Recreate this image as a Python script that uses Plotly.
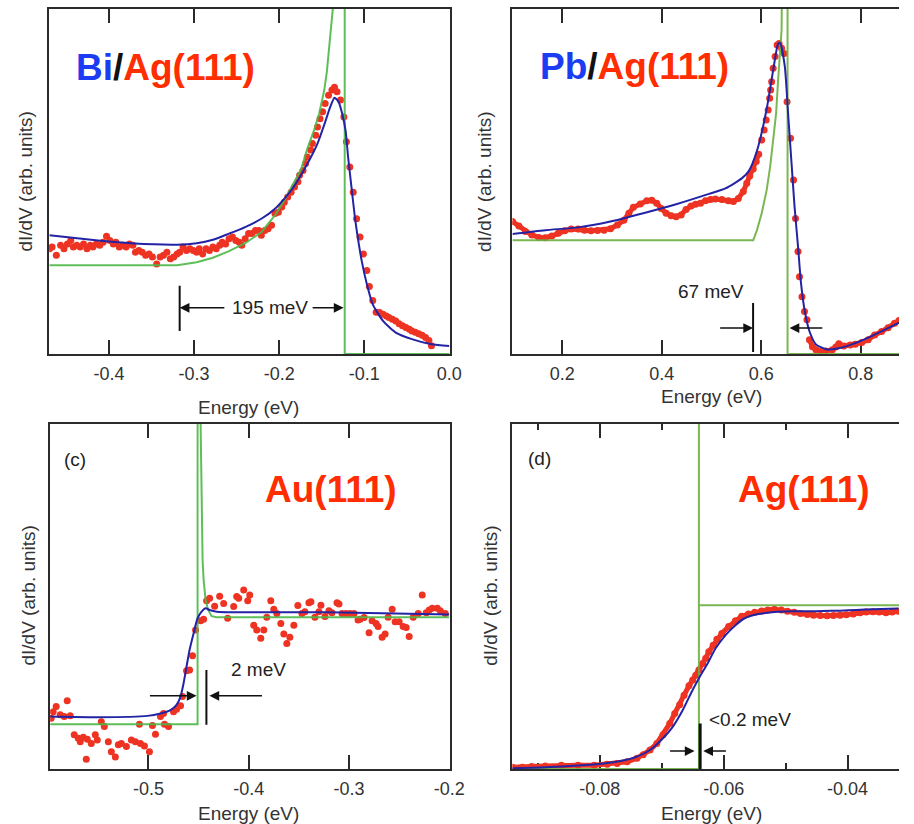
import plotly.graph_objects as go

# ---------------- Panel (a) Bi/Ag(111) ----------------
a_energy = [-0.470, -0.467, -0.462, -0.457, -0.453, -0.449, -0.445, -0.442, -0.438, -0.434,
            -0.430, -0.426, -0.422, -0.419, -0.415, -0.411, -0.407, -0.403, -0.399, -0.395,
            -0.392, -0.388, -0.384, -0.380, -0.376, -0.372, -0.369, -0.365, -0.361, -0.357,
            -0.353, -0.349, -0.344, -0.340, -0.336, -0.332, -0.328, -0.324, -0.320, -0.317,
            -0.313, -0.309, -0.305, -0.301, -0.297, -0.294, -0.290, -0.286, -0.282, -0.278,
            -0.274, -0.270, -0.267, -0.263, -0.259, -0.255, -0.251, -0.247, -0.244, -0.240,
            -0.236, -0.232, -0.228, -0.224, -0.221, -0.217, -0.213, -0.209, -0.205, -0.201,
            -0.197, -0.194, -0.190, -0.186, -0.182, -0.178, -0.176, -0.172, -0.169, -0.167,
            -0.163, -0.161, -0.157, -0.155, -0.152, -0.149, -0.146, -0.142, -0.138, -0.135,
            -0.132, -0.128, -0.124, -0.121, -0.117, -0.113, -0.109, -0.105, -0.101, -0.097,
            -0.094, -0.090, -0.086, -0.082, -0.078, -0.074, -0.071, -0.067, -0.063, -0.059,
            -0.055, -0.051, -0.047, -0.044, -0.040, -0.036, -0.032, -0.028, -0.024, -0.021]
a_didv = [30.5, 31.0, 28.6, 31.5, 30.5, 31.9, 32.9, 31.0, 31.5, 31.0,
          31.9, 30.5, 31.5, 31.0, 31.9, 31.5, 32.4, 34.1, 32.9, 31.9,
          32.4, 31.0, 31.5, 31.0, 31.9, 31.5, 29.5, 30.0, 29.5, 28.6,
          29.0, 28.1, 26.1, 28.1, 28.6, 29.5, 27.6, 28.1, 29.0, 29.5,
          31.0, 30.0, 30.5, 30.0, 29.5, 30.5, 29.0, 30.5, 30.0, 31.0,
          30.5, 31.5, 32.4, 31.9, 33.4, 33.9, 32.9, 32.4, 31.5, 33.4,
          34.9, 34.9, 35.8, 35.8, 34.4, 35.8, 36.3, 37.3, 40.7, 41.1,
          42.6, 44.0, 45.5, 46.9, 48.4, 49.9, 51.8, 53.2, 55.2, 57.1,
          59.1, 61.0, 63.4, 65.8, 68.2, 70.2, 72.6, 75.0, 76.5, 77.3,
          76.0, 73.6, 68.7, 61.5, 54.2, 46.9, 39.2, 33.9, 29.0, 24.2,
          19.6, 15.5, 12.1, 12.0, 11.5, 11.0, 10.6, 10.1, 9.6, 8.8,
          8.2, 7.7, 7.2, 6.7, 6.3, 5.9, 5.4, 4.8, 3.9, 2.4]
a_fit_energy = [-0.470, -0.413, -0.374, -0.320, -0.297, -0.278, -0.259, -0.240, -0.221, -0.205,
                -0.186, -0.167, -0.155, -0.146, -0.140, -0.135, -0.130, -0.126, -0.122, -0.119,
                -0.115, -0.111, -0.107, -0.103, -0.097, -0.090, -0.078, -0.063, -0.044, -0.021, 0.000]
a_fit = [34.4, 32.9, 32.1, 31.7, 32.1, 33.1, 34.9, 36.8, 39.2, 42.1,
         47.4, 55.1, 61.0, 67.2, 71.6, 74.3, 73.0, 69.7, 64.8, 57.1,
         48.3, 39.6, 32.8, 27.0, 20.3, 14.4, 9.6, 6.2, 4.3, 2.8, 2.3]
a_model_energy = [-0.470, -0.320, -0.297, -0.278, -0.259, -0.240, -0.221, -0.205, -0.194, -0.182,
                  -0.174, -0.167, -0.159, -0.153, -0.147, -0.144, -0.141, -0.139, -0.137, -0.136,
                  -0.123, -0.123, 0.000]
a_model = [25.7, 25.7, 26.6, 27.9, 29.8, 32.1, 35.3, 40.2, 44.5, 49.9,
           53.7, 59.5, 64.9, 69.7, 76.5, 81.8, 89.1, 94.9, 100.0, 110.0,
           110.0, 0.0, 0.0]

# ---------------- Panel (b) Pb/Ag(111) ----------------
b_energy_low = [0.100, 0.113, 0.126, 0.139, 0.153, 0.166, 0.179, 0.192, 0.205, 0.218,
                0.232, 0.245, 0.258, 0.271, 0.284, 0.297, 0.311, 0.324, 0.334, 0.343,
                0.357, 0.370, 0.380, 0.390, 0.399, 0.409, 0.419, 0.429, 0.439, 0.449,
                0.459, 0.468, 0.478, 0.488, 0.498, 0.508, 0.521, 0.534, 0.544, 0.554,
                0.564, 0.571, 0.577, 0.584, 0.590, 0.595]
b_didv_low = [38.4, 37.1, 35.5, 34.5, 33.8, 33.7, 34.2, 35.0, 35.7, 36.2,
              36.2, 35.9, 35.7, 35.8, 35.9, 36.3, 37.4, 38.8, 40.8, 42.5,
              43.5, 44.4, 44.6, 43.7, 42.2, 40.8, 40.1, 39.8, 40.3, 41.9,
              42.9, 43.4, 43.7, 44.4, 44.8, 44.9, 44.8, 44.4, 44.2, 45.1,
              47.1, 49.5, 51.6, 53.6, 55.8, 57.9]
b_energy_peak = [0.601, 0.606, 0.610, 0.614, 0.617, 0.619, 0.621, 0.624, 0.628, 0.632,
                 0.636, 0.641, 0.646, 0.652, 0.659, 0.665, 0.669, 0.674, 0.677, 0.682,
                 0.687, 0.692]
b_didv_peak = [62.0, 64.9, 67.8, 70.7, 74.1, 76.5, 78.9, 82.8, 86.2, 89.6,
               90.0, 88.6, 87.1, 73.1, 62.5, 50.4, 39.3, 29.7, 22.4, 16.6,
               12.3, 9.9]
b_energy_high = [0.697, 0.703, 0.710, 0.720, 0.730, 0.743, 0.750, 0.756, 0.766, 0.779,
                 0.789, 0.802, 0.815, 0.828, 0.842, 0.855, 0.868, 0.877]
b_didv_high = [4.1, 2.1, 1.2, 0.7, 0.9, 1.2, 2.0, 3.0, 2.3, 2.6,
               2.8, 3.3, 4.1, 5.5, 6.5, 7.6, 8.9, 9.7]
b_fit_energy = [0.100, 0.166, 0.232, 0.297, 0.363, 0.429, 0.495, 0.528, 0.561, 0.575,
                0.5915, 0.611, 0.624, 0.634, 0.638, 0.6475, 0.654, 0.661, 0.667, 0.674,
                0.680, 0.687, 0.697, 0.710, 0.730, 0.750, 0.782, 0.822, 0.877]
b_fit = [34.8, 35.9, 36.7, 38.4, 40.8, 43.4, 46.4, 48.0, 50.9, 53.0,
         58.9, 71.0, 82.2, 89.9, 90.2, 83.3, 69.8, 55.3, 42.8, 31.2,
         20.6, 12.9, 6.6, 2.8, 1.4, 1.5, 2.8, 5.2, 9.1]
b_model_energy = [0.100, 0.584, 0.5915, 0.601, 0.611, 0.618, 0.624, 0.630, 0.634, 0.638,
                  0.641, 0.642, 0.653, 0.653, 0.877]
b_model = [33.0, 33.0, 35.9, 40.8, 47.5, 54.3, 62.0, 69.8, 79.4, 88.1,
           93.9, 110.0, 110.0, 0.0, 0.0]

# ---------------- Panel (c) Au(111) ----------------
c_energy = [-0.597, -0.595, -0.592, -0.588, -0.584, -0.581, -0.578, -0.574, -0.570, -0.568,
            -0.565, -0.562, -0.561, -0.557, -0.553, -0.551, -0.547, -0.544, -0.540, -0.537,
            -0.533, -0.530, -0.527, -0.522, -0.517, -0.513, -0.509, -0.508, -0.504, -0.499,
            -0.496, -0.493, -0.488, -0.485, -0.484, -0.480, -0.475, -0.472, -0.468, -0.466,
            -0.462, -0.459, -0.456, -0.453, -0.448, -0.445, -0.442, -0.439, -0.434, -0.429,
            -0.425, -0.421, -0.415, -0.412, -0.410, -0.405, -0.401, -0.399, -0.395, -0.392,
            -0.388, -0.385, -0.382, -0.378, -0.375, -0.372, -0.368, -0.365, -0.362, -0.359,
            -0.355, -0.351, -0.347, -0.344, -0.340, -0.338, -0.334, -0.330, -0.328, -0.324,
            -0.320, -0.317, -0.312, -0.310, -0.307, -0.303, -0.299, -0.295, -0.291, -0.289,
            -0.285, -0.280, -0.277, -0.273, -0.271, -0.267, -0.264, -0.261, -0.257, -0.254,
            -0.250, -0.246, -0.243, -0.240, -0.236, -0.231, -0.227, -0.223, -0.220, -0.217,
            -0.212, -0.209, -0.204]
c_didv = [14.7, 16.6, 18.1, 15.7, 15.2, 19.8, 15.4, 9.9, 8.9, 7.9,
          9.2, 2.8, 8.6, 7.4, 9.9, 8.4, 13.7, 12.3, 7.9, 5.0,
          3.5, 7.0, 7.4, 6.5, 8.4, 7.9, 13.0, 7.4, 6.7, 5.0,
          12.6, 10.1, 15.2, 16.1, 13.0, 12.3, 16.6, 17.3, 18.3, 21.0,
          28.5, 28.7, 32.8, 40.3, 43.0, 43.4, 48.8, 49.5, 47.2, 50.1,
          48.0, 43.7, 47.1, 50.0, 49.5, 51.9, 48.8, 50.4, 41.7, 40.3,
          37.9, 40.3, 44.0, 48.8, 46.3, 45.1, 42.2, 39.1, 36.4, 38.2,
          41.7, 47.4, 45.1, 45.6, 48.2, 48.5, 44.0, 45.6, 47.5, 44.2,
          45.9, 45.3, 48.2, 47.8, 45.1, 45.1, 45.1, 45.1, 43.2, 43.4,
          43.9, 39.5, 43.0, 42.2, 41.3, 38.2, 39.1, 44.0, 46.3, 42.7,
          42.7, 41.3, 41.0, 38.4, 44.0, 45.1, 50.4, 45.3, 46.1, 46.6,
          46.6, 45.9, 45.1]
c_fit_energy = [-0.598, -0.550, -0.501, -0.488, -0.478, -0.472, -0.468, -0.465, -0.462, -0.459,
                -0.455, -0.451, -0.447, -0.443, -0.439, -0.432, -0.403, -0.321, -0.200]
c_fit = [15.2, 15.0, 15.4, 16.1, 17.1, 18.6, 21.0, 24.8, 29.7, 34.5,
         39.3, 43.7, 45.6, 46.6, 46.1, 45.6, 45.4, 45.4, 44.8]
c_model_energy = [-0.598, -0.451, -0.451, -0.4485, -0.448, -0.447, -0.446, -0.445, -0.443, -0.4405,
                  -0.437, -0.432, -0.200]
c_model = [13.0, 13.0, 110.0, 110.0, 100.0, 75.1, 60.6, 54.8, 49.0, 46.1,
           44.3, 44.0, 44.0]

# ---------------- Panel (d) Ag(111) ----------------
d_energy = [-0.0941, -0.0925, -0.0910, -0.0888, -0.0862, -0.0835, -0.0809, -0.0788, -0.0772, -0.0756,
            -0.0740, -0.0730, -0.0719, -0.0708, -0.0698, -0.0687, -0.0679, -0.0671, -0.0664, -0.0656,
            -0.0650, -0.0645, -0.0640, -0.0634, -0.0629, -0.0624, -0.0617, -0.0611, -0.0603, -0.0592,
            -0.0581, -0.0571, -0.0560, -0.0550, -0.0539, -0.0529, -0.0518, -0.0507, -0.0497, -0.0486,
            -0.0476, -0.0465, -0.0455, -0.0444, -0.0433, -0.0423, -0.0412, -0.0402, -0.0391, -0.0380,
            -0.0370, -0.0359, -0.0349, -0.0338, -0.0328, -0.0318]
d_didv = [0.5, 0.5, 0.7, 0.9, 1.1, 1.1, 1.1, 1.4, 1.6, 2.1,
          3.1, 4.1, 5.5, 7.4, 9.9, 13.2, 16.1, 18.6, 21.4, 24.1,
          25.8, 27.2, 28.7, 30.6, 32.1, 34.0, 35.9, 37.6, 39.3, 41.3,
          43.0, 44.3, 44.9, 45.4, 45.8, 46.1, 46.3, 46.1, 45.7, 45.4,
          45.1, 44.8, 44.6, 44.5, 44.4, 44.5, 44.6, 44.7, 44.9, 45.3,
          45.5, 45.6, 45.5, 45.3, 45.5, 45.7]
d_fit_energy = [-0.0941, -0.0888, -0.0835, -0.0793, -0.0767, -0.0740, -0.0719, -0.0698, -0.0682, -0.0666,
                -0.0653, -0.0640, -0.0626, -0.0613, -0.0597, -0.0581, -0.0566, -0.0544, -0.0518, -0.0492,
                -0.0465, -0.0439, -0.0412, -0.0386, -0.0359, -0.0318]
d_fit = [0.2, 0.5, 1.0, 1.6, 2.3, 3.6, 5.5, 8.9, 12.3, 17.1,
         21.9, 26.3, 30.6, 35.0, 38.8, 41.7, 43.7, 44.9, 45.5, 45.7,
         45.7, 45.8, 45.9, 46.1, 46.3, 46.5]
d_model_energy = [-0.0941, -0.0640, -0.0640, -0.0640, -0.0317]
d_model = [0.0, 0.0, 110.0, 47.5, 47.5]

# ---------------- Axis ticks ----------------
a_ticks = [-0.4, -0.3, -0.2, -0.1, 0.0]
a_ticktext = ["-0.4", "-0.3", "-0.2", "-0.1", "0.0"]
b_ticks = [0.2, 0.4, 0.6, 0.8]
b_ticktext = ["0.2", "0.4", "0.6", "0.8"]
c_ticks = [-0.5, -0.4, -0.3, -0.2]
c_ticktext = ["-0.5", "-0.4", "-0.3", "-0.2"]
d_ticks = [-0.08, -0.06, -0.04]
d_ticktext = ["-0.08", "-0.06", "-0.04"]
d_minor_ticks = [-0.09, -0.07, -0.05]

# ---------------- Styles ----------------
RED = "#ee3323"
BLUE = "#2323a6"
GREEN_AC = "#4db848"
GREEN_BD = "#6cb040"
FRAME = "#2b2b2b"
TXT = "#333333"
FONT = "Liberation Sans, Arial, Helvetica, sans-serif"

W, H = 914, 824
fig = go.Figure()


def px_x(p):
    return p / W


def px_y(p):
    return 1 - p / H


def add_panel(n, model_e, model_y, green, fit_e, fit_y, data_sets):
    xa = "x" if n == 1 else f"x{n}"
    ya = "y" if n == 1 else f"y{n}"
    for (e, v, dense) in data_sets:
        if dense:
            fig.add_trace(go.Scatter(x=e, y=v, mode="lines+markers", xaxis=xa, yaxis=ya,
                                     line=dict(color=RED, width=5),
                                     marker=dict(color=RED, size=7), showlegend=False))
        else:
            fig.add_trace(go.Scatter(x=e, y=v, mode="markers", xaxis=xa, yaxis=ya,
                                     marker=dict(color=RED, size=7), showlegend=False))
    fig.add_trace(go.Scatter(x=model_e, y=model_y, mode="lines", xaxis=xa, yaxis=ya,
                             line=dict(color=green, width=2), opacity=0.9, showlegend=False))
    fig.add_trace(go.Scatter(x=fit_e, y=fit_y, mode="lines", xaxis=xa, yaxis=ya,
                             line=dict(color=BLUE, width=2, shape="spline", smoothing=0.6),
                             showlegend=False))


add_panel(1, a_model_energy, a_model, GREEN_AC, a_fit_energy, a_fit,
          [(a_energy, a_didv, False)])
add_panel(2, b_model_energy, b_model, GREEN_BD, b_fit_energy, b_fit,
          [(b_energy_low, b_didv_low, True), (b_energy_peak, b_didv_peak, False),
           (b_energy_high, b_didv_high, True)])
add_panel(3, c_model_energy, c_model, GREEN_AC, c_fit_energy, c_fit,
          [(c_energy, c_didv, False)])
add_panel(4, d_model_energy, d_model, GREEN_BD, d_fit_energy, d_fit,
          [(d_energy, d_didv, True)])

top_dom = [px_y(354), px_y(9)]
bot_dom = [px_y(769), px_y(424)]
left_dom_a = [px_x(50), px_x(457)]
left_dom_c = [px_x(51), px_x(457)]
right_dom = [px_x(521), 1.0]


def xaxis(dom, rng, tv, tt, anchor, minor=None):
    d = dict(domain=dom, range=rng, anchor=anchor, tickmode="array", tickvals=tv, ticktext=tt,
             ticks="inside", ticklen=14, tickwidth=2, tickcolor=FRAME,
             showline=True, linecolor=FRAME, linewidth=2, mirror="ticks",
             showgrid=False, zeroline=False, layer="below traces",
             tickfont=dict(family=FONT, size=18, color=TXT), ticklabelstandoff=2)
    if minor:
        d["minor"] = dict(tickmode="array", tickvals=minor, ticks="inside", ticklen=6,
                          tickwidth=2, tickcolor=FRAME)
    return d


def yaxis(dom, anchor, mirror):
    return dict(domain=dom, range=[0, 100], anchor=anchor, showticklabels=False, ticks="",
                showline=True, linecolor=FRAME, linewidth=2, mirror=mirror,
                showgrid=False, zeroline=False, layer="below traces")


fig.update_layout(
    width=W, height=H, margin=dict(l=0, r=0, t=0, b=0),
    paper_bgcolor="white", plot_bgcolor="white", showlegend=False,
    xaxis=xaxis(left_dom_a, [-0.4704, 0.0002], a_ticks, a_ticktext, "y"),
    yaxis=yaxis(top_dom, "x", True),
    xaxis2=xaxis(right_dom, [0.100, 0.877], b_ticks, b_ticktext, "y2"),
    yaxis2=yaxis(top_dom, "x2", False),
    xaxis3=xaxis(left_dom_c, [-0.598, -0.1998], c_ticks, c_ticktext, "y3"),
    yaxis3=yaxis(bot_dom, "x3", True),
    xaxis4=xaxis(right_dom, [-0.0941, -0.0317], d_ticks, d_ticktext, "y4", d_minor_ticks),
    yaxis4=yaxis(bot_dom, "x4", False),
)

ann = []
# axis titles
for (cx, cy) in [(253, 407), (723, 397), (253, 813), (723, 813)]:
    ann.append(dict(text="Energy (eV)", x=px_x(cx), y=px_y(cy), xref="paper", yref="paper",
                    xanchor="center", yanchor="middle",
                    showarrow=False, font=dict(family=FONT, size=19, color=TXT)))
for (cx, cy) in [(25, 182), (492, 182), (28, 596), (498, 596)]:
    ann.append(dict(text="dI/dV (arb. units)", x=px_x(cx), y=px_y(cy), xref="paper", yref="paper",
                    xanchor="center", yanchor="middle",
                    showarrow=False, textangle=-90, font=dict(family=FONT, size=19, color=TXT)))

BIG = dict(family=FONT, size=37)
blue_t = "#1b3cf2"
red_t = "#ff2d00"
ann.append(dict(text=f"<b><span style='color:{blue_t}'>Bi</span><span style='color:#111'>/</span>"
                     f"<span style='color:{red_t}'>Ag(111)</span></b>",
                x=-0.334, y=83.1, xref="x", yref="y", showarrow=False, font=BIG))
ann.append(dict(text=f"<b><span style='color:{blue_t}'>Pb</span><span style='color:#111'>/</span>"
                     f"<span style='color:{red_t}'>Ag(111)</span></b>",
                x=0.3447, y=83.2, xref="x2", yref="y2", showarrow=False, font=BIG))
ann.append(dict(text="<b>Au(111)</b>", x=-0.3181, y=80.9, xref="x3", yref="y3",
                showarrow=False, font=dict(family=FONT, size=37, color=red_t)))
ann.append(dict(text="<b>Ag(111)</b>", x=-0.0471, y=80.9, xref="x4", yref="y4",
                showarrow=False, font=dict(family=FONT, size=37, color=red_t)))

SMALL = dict(family=FONT, size=19, color="#222222")
ann.append(dict(text="(c)", x=-0.5735, y=89.6, xref="x3", yref="y3", showarrow=False, font=SMALL))
ann.append(dict(text="(d)", x=-0.0898, y=90.1, xref="x4", yref="y4", showarrow=False, font=SMALL))
ann.append(dict(text="195 meV", x=-0.2108, y=13.4, xref="x", yref="y", showarrow=False, font=SMALL))
ann.append(dict(text="67 meV", x=0.4987, y=18.0, xref="x2", yref="y2", showarrow=False, font=SMALL))
ann.append(dict(text="2 meV", x=-0.3902, y=28.7, xref="x3", yref="y3", showarrow=False, font=SMALL))
ann.append(dict(text="&lt;0.2 meV", x=-0.0558, y=14.4, xref="x4", yref="y4", showarrow=False,
                font=SMALL))

arrows = [
    ("x", "y", -0.317, -0.2627, 13.4),
    ("x", "y", -0.1243, -0.1624, 13.4),
    ("x2", "y2", 0.5837, 0.5145, 7.5),
    ("x2", "y2", 0.657, 0.7258, 7.5),
    ("x3", "y3", -0.452, -0.500, 21.2),
    ("x3", "y3", -0.4392, -0.3853, 21.2),
    ("x4", "y4", -0.0647, -0.0689, 5.2),
    ("x4", "y4", -0.0633, -0.0594, 5.2),
]
for (xr, yr, hx, tx, yy) in arrows:
    ann.append(dict(text="", x=hx, y=yy, ax=tx, ay=yy, xref=xr, yref=yr, axref=xr, ayref=yr,
                    showarrow=True, arrowhead=2, arrowsize=1.3, arrowwidth=1.5,
                    arrowcolor="#111111", standoff=0, startstandoff=0))
fig.update_layout(annotations=ann)

bars = [("x", "y", -0.317, 6.7, 19.8, 2), ("x2", "y2", 0.5837, 0.6, 14.8, 2),
        ("x3", "y3", -0.4422, 12.8, 28.7, 2), ("x4", "y4", -0.0638, 0.0, 13.2, 3)]
for (xr, yr, xx, y0, y1, w) in bars:
    fig.add_shape(type="line", xref=xr, yref=yr, x0=xx, x1=xx, y0=y0, y1=y1,
                  line=dict(color="#111111", width=w))

fig.write_html("out.html")
